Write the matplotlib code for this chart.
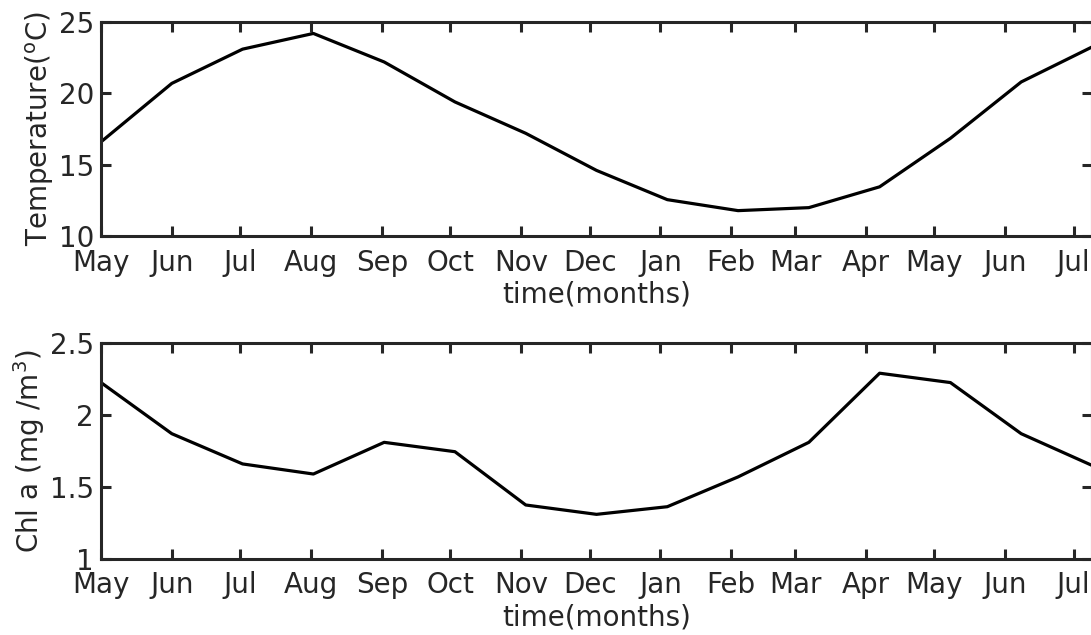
import numpy as np
import matplotlib.pyplot as plt

# monthly samples, one every 31 days starting 1 May
days = np.arange(15) * 31
temp = [16.6, 20.7, 23.1, 24.2, 22.2, 19.4, 17.2, 14.6, 12.55, 11.78,
        11.99, 13.45, 16.85, 20.8, 23.25]
chl = [2.225, 1.87, 1.66, 1.59, 1.81, 1.745, 1.375, 1.31, 1.363, 1.57,
       1.81, 2.29, 2.225, 1.87, 1.65]

# first day of each month, counted from 1 May
month_start = [0, 31, 61, 92, 123, 153, 184, 214, 245, 276, 304, 335, 365, 396, 426]
month_names = ['May', 'Jun', 'Jul', 'Aug', 'Sep', 'Oct', 'Nov', 'Dec',
               'Jan', 'Feb', 'Mar', 'Apr', 'May', 'Jun', 'Jul']

plt.rcParams['font.family'] = 'DejaVu Sans'
grey = '#262626'
fs = 20

fig = plt.figure(figsize=(10.91, 6.35), dpi=100)
ax1 = fig.add_axes([0.0926, 0.6283, 0.9083, 0.3370])
ax2 = fig.add_axes([0.0926, 0.1197, 0.9083, 0.3402])


def style(ax):
    ax.set_xlim(0, 434)
    ax.set_xticks(month_start)
    ax.set_xticklabels(month_names)
    ax.tick_params(direction='in', length=7, width=2.2, colors=grey,
                   top=True, right=True, labelsize=fs)
    ax.tick_params(axis='x', pad=9)
    ax.tick_params(axis='y', pad=5)
    for s in ax.spines.values():
        s.set_linewidth(2.2)
        s.set_color(grey)
    ax.set_xlabel('time(months)', color=grey, fontsize=fs, labelpad=3)


ax1.plot(days, temp, color='black', linewidth=2.3)
ax1.set_ylim(10, 25)
ax1.set_yticks([10, 15, 20, 25])
ax1.set_ylabel('Temperature($^{\\rm o}$C)', color=grey, fontsize=fs, labelpad=2)
style(ax1)

ax2.plot(days, chl, color='black', linewidth=2.3)
ax2.set_ylim(1, 2.5)
ax2.set_yticks([1, 1.5, 2, 2.5])
ax2.set_yticklabels(['1', '1.5', '2', '2.5'])
ax2.set_ylabel('Chl a (mg /m$^3$)', color=grey, fontsize=fs, labelpad=2)
style(ax2)

fig.savefig('out.png', dpi=100)
